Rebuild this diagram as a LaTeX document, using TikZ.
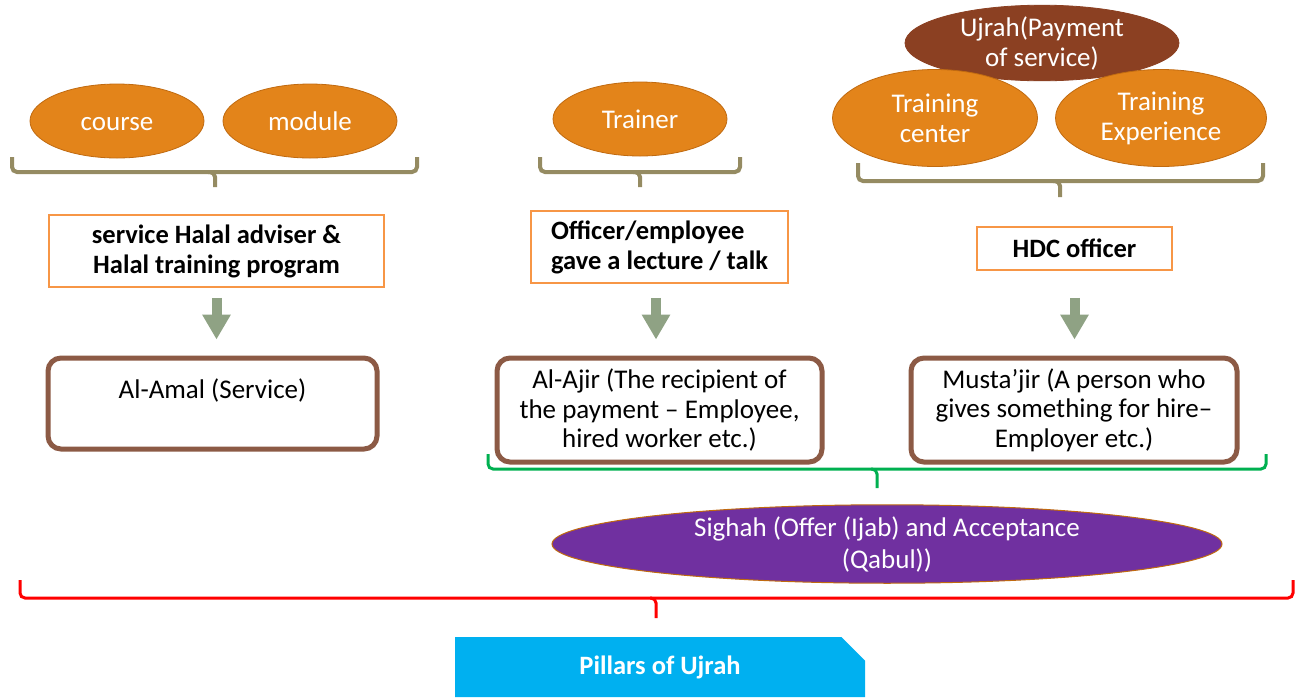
\documentclass[tikz,border=0pt]{standalone}
\usepackage{fontspec}
\setmainfont{Carlito}
\usetikzlibrary{shapes.geometric,shapes.misc,arrows.meta}
\definecolor{orangeE}{HTML}{E3841A}
\definecolor{orangeB}{HTML}{C06A10}
\definecolor{boxO}{HTML}{F79646}
\definecolor{brownR}{HTML}{8C5A45}
\definecolor{braceB}{HTML}{958B62}
\definecolor{arrowG}{HTML}{8FA284}
\definecolor{ujrahB}{HTML}{8B4022}
\definecolor{purpleS}{HTML}{7030A0}
\definecolor{greenB}{HTML}{00B050}
\definecolor{cyanP}{HTML}{00B0F0}
\tikzset{
  oval/.style={ellipse, fill=orangeE, draw=orangeB, line width=0.8pt, inner sep=0pt, text=white, align=center, font=\fontsize{27}{30}\selectfont},
  obox/.style={rectangle, draw=boxO, line width=1.6pt, fill=white, inner sep=0pt, font=\bfseries\fontsize{26.5}{30}\selectfont},
  rbox/.style={rectangle, rounded corners=13pt, draw=brownR, line width=5pt, fill=white, inner sep=0pt, align=center, font=\fontsize{27}{29.5}\selectfont},
  blockarrow/.style={draw=arrowG, line width=10pt, -{Triangle[width=27pt,length=25pt]}},
  bracepath/.style={line width=4pt, rounded corners=5pt},
}
\begin{document}
\begin{tikzpicture}[x=1pt,y=-1pt]
\useasboundingbox (0,0) rectangle (1300,697);
% top ellipses
\node[oval, minimum width=174, minimum height=74] (course) at (117,121) {course\vphantom{dl}};
\node[oval, minimum width=174, minimum height=74] (module) at (310,121) {module};
\node[oval, minimum width=174, minimum height=74] (trainer) at (640,119) {Trainer};
\node[oval, minimum width=274, minimum height=60, fill=ujrahB, draw=ujrahB] (ujrah) at (1042,43) {Ujrah(Payment\\of service)};
\node[oval, minimum width=205, minimum height=97] (tcenter) at (935,118) {Training\\center};
\node[oval, minimum width=211, minimum height=97] (texp) at (1161,118) {Training\\Experience};
% braces (top)
\draw[bracepath, draw=braceB] (12,157) -- (12,172) -- (417,172) -- (417,157);
\draw[bracepath, draw=braceB] (208,172) -- (215,172) -- (215,187);
\draw[bracepath, draw=braceB] (540,157) -- (540,172) -- (740,172) -- (740,157);
\draw[bracepath, draw=braceB] (633,172) -- (640,172) -- (640,187);
\draw[bracepath, draw=braceB] (858,163) -- (858,181) -- (1263,181) -- (1263,163);
\draw[bracepath, draw=braceB] (1053,181) -- (1060,181) -- (1060,197);
% orange boxes
\node[obox, minimum width=335, minimum height=72, align=center] (b1) at (216.5,251) {service Halal adviser \&\\Halal training program};
\node[obox, minimum width=257, minimum height=72, align=left] (b2) at (659.5,247) {Officer/employee\\gave a lecture / talk};
\node[obox, minimum width=195, minimum height=43] (b3) at (1074.5,248.5) {HDC officer};
% rounded boxes
\node[rbox, minimum width=329, minimum height=91] (amal) at (212.5,403.5) {Al-Amal (Service)\\\mbox{}};
\node[rbox, minimum width=325, minimum height=104] (ajir) at (659.5,410) {Al-Ajir (The recipient of\\the payment -- Employee,\\hired worker etc.)};
\node[rbox, minimum width=326, minimum height=104] (mustajir) at (1074,410) {Musta’jir (A person who\\gives something for hire--\\Employer etc.)};
% arrows
\draw[blockarrow, shorten <=10pt, shorten >=16pt] (b1.south) -- (b1.south |- amal.north);
\draw[blockarrow, shorten <=14pt, shorten >=16pt] ([xshift=-3.5pt]b2.south) -- ([xshift=-3.5pt]b2.south |- ajir.north);
\draw[blockarrow, shorten <=27pt, shorten >=16pt] (b3.south) -- (b3.south |- mustajir.north);
% green brace
\draw[bracepath, draw=greenB, line width=3pt] (488,454) -- (488,469) -- (1266,469) -- (1266,454);
\draw[bracepath, draw=greenB, line width=3pt] (871,469) -- (877,469) -- (877,488);
% Sighah
\node[ellipse, fill=purpleS, draw=orangeB, line width=1pt, minimum width=670, minimum height=73, inner sep=0pt, text=white, align=center, font=\fontsize{27}{32}\selectfont] (sighah) at (887,544) {Sighah (Offer (Ijab) and Acceptance\\(Qabul))};
% red brace
\draw[bracepath, draw=red, line width=3pt] (20,580) -- (20,598) -- (1293,598) -- (1293,580);
\draw[bracepath, draw=red, line width=3pt] (650,598) -- (656,598) -- (656,618);
% Pillars
\node[chamfered rectangle, chamfered rectangle corners=north east, chamfered rectangle xsep=12pt, chamfered rectangle ysep=12pt, fill=cyanP, inner sep=0pt, minimum width=410, minimum height=60, text=white, font=\bfseries\fontsize{26.5}{30}\selectfont] (pillars) at (660,667) {Pillars of Ujrah};
\end{tikzpicture}
\end{document}
